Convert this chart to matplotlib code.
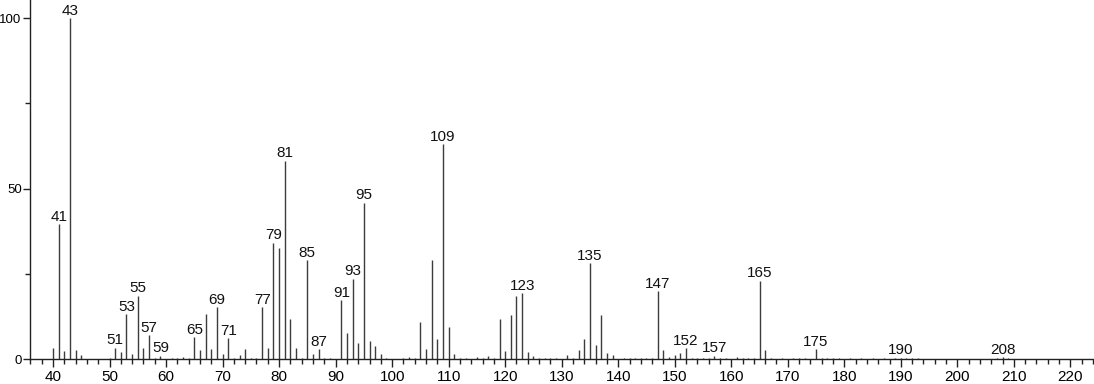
import matplotlib
matplotlib.use("Agg")
import matplotlib.pyplot as plt
from matplotlib.ticker import MultipleLocator

plt.rcParams['font.family'] = ['Liberation Sans', 'DejaVu Sans']

mz = [40, 41, 42, 43, 44, 45, 50, 51, 52, 53, 54, 55, 56, 57, 58, 59,
      61, 62, 63, 64, 65, 66, 67, 68, 69, 70, 71, 72, 73, 74, 75, 76,
      77, 78, 79, 80, 81, 82, 83, 84, 85, 86, 87, 88, 89, 91, 92, 93,
      94, 95, 96, 97, 98, 99, 102, 103, 104, 105, 106, 107, 108, 109,
      110, 111, 112, 113, 115, 116, 117, 118, 119, 120, 121, 122, 123,
      124, 125, 126, 127, 128, 129, 131, 132, 133, 134, 135, 136, 137,
      138, 139, 141, 142, 143, 144, 145, 146, 147, 148, 149, 150, 151,
      152, 153, 154, 155, 156, 157, 158, 159, 161, 162, 163, 164, 165,
      166, 167, 169, 171, 172, 173, 175, 176, 177, 178, 179, 181, 183,
      185, 187, 189, 190, 191, 192, 193, 207, 208, 209]
intensity = [3.1, 39.6, 2.2, 100.0, 2.6, 1.1, 0.3, 3.3, 2.1, 13.2, 1.4, 18.6, 3.1, 7.0, 0.3, 1.0,
             0.3, 0.4, 0.6, 0.4, 6.4, 2.6, 13.2, 2.9, 15.2, 1.5, 6.1, 0.2, 1.1, 2.8, 0.2, 0.3,
             15.2, 3.1, 34.1, 32.7, 58.1, 11.6, 3.1, 0.4, 29.0, 1.5, 2.8, 0.2, 0.3, 17.3, 7.7, 23.5,
             4.8, 45.9, 5.3, 3.9, 1.5, 0.2, 0.3, 0.6, 0.3, 10.9, 2.9, 29.0, 5.8, 63.0,
             9.5, 1.5, 0.4, 0.3, 0.5, 0.3, 1.0, 0.4, 11.6, 2.3, 12.9, 18.5, 19.3,
             2.1, 1.0, 0.3, 0.3, 0.3, 0.4, 1.3, 0.4, 2.5, 5.8, 28.1, 4.1, 12.9,
             1.7, 1.1, 0.3, 0.3, 0.3, 0.3, 0.3, 0.2, 19.8, 2.6, 0.5, 1.2, 1.8,
             3.1, 0.3, 0.3, 0.3, 0.3, 1.0, 0.3, 0.3, 0.5, 0.3, 0.3, 0.2, 23.0,
             2.6, 0.3, 0.2, 0.3, 0.2, 0.3, 2.8, 0.3, 0.2, 0.3, 0.2, 0.2, 0.2,
             0.2, 0.2, 0.2, 0.4, 0.2, 0.2, 0.2, 0.2, 0.5, 0.2]
labeled = [41, 43, 51, 53, 55, 57, 59, 65, 69, 71, 77, 79, 81, 85, 87, 91, 93, 95,
           109, 123, 135, 147, 152, 157, 165, 175, 190, 208]

fig = plt.figure(figsize=(10.94, 3.84), dpi=100)
ax = fig.add_axes([30 / 1094, 25 / 384, 1 - 31 / 1094, 1 - 25 / 384])
ax.vlines(mz, 0, intensity, color='#3c3c3c', linewidth=1.0)

lookup = dict(zip(mz, intensity))
for m in labeled:
    ax.annotate(str(m), (m, lookup[m]), xytext=(0, 2.5), textcoords='offset points',
                ha='center', va='baseline', fontsize=11, color='#111111')

ax.set_xlim(35.93, 224.0)
ax.set_ylim(0, 105.3)
for s in ['top', 'right']:
    ax.spines[s].set_visible(False)
for s in ['left', 'bottom']:
    ax.spines[s].set_linewidth(1.0)
    ax.spines[s].set_color('#222222')

ax.xaxis.set_major_locator(MultipleLocator(10))
ax.xaxis.set_minor_locator(MultipleLocator(2))
ax.yaxis.set_major_locator(MultipleLocator(50))
ax.yaxis.set_minor_locator(MultipleLocator(25))
ax.tick_params(axis='both', which='major', length=6, width=1.0, color='#222222')
ax.tick_params(axis='both', which='minor', length=3.5, width=1.0, color='#222222')
ax.tick_params(axis='x', which='major', labelsize=11, pad=2)
ax.tick_params(axis='y', which='major', labelsize=9.5, pad=1, length=5)

fig.savefig('out.png', dpi=100)
